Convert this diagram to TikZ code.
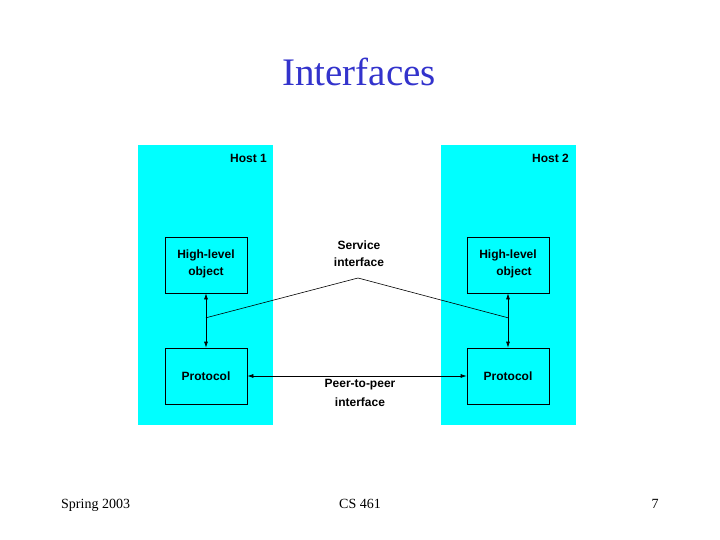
\documentclass[tikz,border=0pt]{standalone}
\usepackage{fontspec}
\setmainfont{Liberation Serif}
\newfontfamily\etichetta{Liberation Sans}
\usetikzlibrary{arrows.meta, calc, positioning}
\definecolor{ciano}{HTML}{00FFFF}
\definecolor{titolo}{HTML}{3333CC}
\tikzset{
    host/.style = {fill = ciano, inner sep = 0pt, minimum width = 135pt, minimum height = 280pt},
    scatola/.style = {draw, line width = 0.7pt, minimum width = 82pt, minimum height = 56pt, inner sep = 0pt},
    testo/.style = {font = \etichetta\bfseries\fontsize{12}{17}\selectfont, inner sep = 0pt},
    freccia/.style = {{Latex[length = 6pt, width = 4pt]}-{Latex[length = 6pt, width = 4pt]}, line width = 0.7pt},
    piede/.style = {font = \fontsize{14}{16}\selectfont, inner sep = 0pt}
}

\begin{document}
\begin{tikzpicture}[x = 1pt, y = -1pt]
    \useasboundingbox (0,0) rectangle (720,540);
    % Titolo
    \node[font = \fontsize{39}{42}\selectfont, text = titolo, inner sep = 0pt] (titolo) at (359,72) {Interfaces};
    % Host
    \node[host] (host1) at (205.5,285) {};
    \node[host] (host2) at (508.5,285) {};
    \node[testo, anchor = east] (nome1) at (267,158) {Host 1};
    \node[testo, anchor = east] (nome2) at (569,158) {Host 2};
    % Scatole
    \node[scatola, testo, align = center, text depth = 4pt] (alto1) at (206,265) {High-level\\object};
    \node[scatola, testo] (prot1) at (206,376) {Protocol};
    \node[scatola, testo, align = left, text depth = 4pt] (alto2) at (508,265) {High-level\\\hspace{17pt}object};
    \node[scatola, testo] (prot2) at (508,376) {Protocol};
    % Frecce
    \draw[freccia] (alto1) -- (prot1);
    \draw[freccia] (alto2) -- (prot2);
    \draw[freccia] (prot1) -- (prot2);
    % Interfaccia di servizio
    \coordinate (s1) at ($(alto1.south)!0.45!(prot1.north)$);
    \coordinate (s2) at ($(alto2.south)!0.45!(prot2.north)$);
    \coordinate (vertice) at (358,278);
    \draw[line width = 0.6pt] (s1) -- (vertice) -- (s2);
    \node[testo, align = center] (servizio) at (359,254) {Service\\interface};
    \node[testo, align = center, font = \etichetta\bfseries\fontsize{12}{19}\selectfont] (pari) at (360,393) {Peer-to-peer\\interface};
    % Piede
    \node[piede, anchor = base west] (stagione) at (61,508) {Spring 2003};
    \node[piede, anchor = base] (corso) at (360,508) {CS 461};
    \node[piede, anchor = base] (pagina) at (655,508) {7};
\end{tikzpicture}
\end{document}
